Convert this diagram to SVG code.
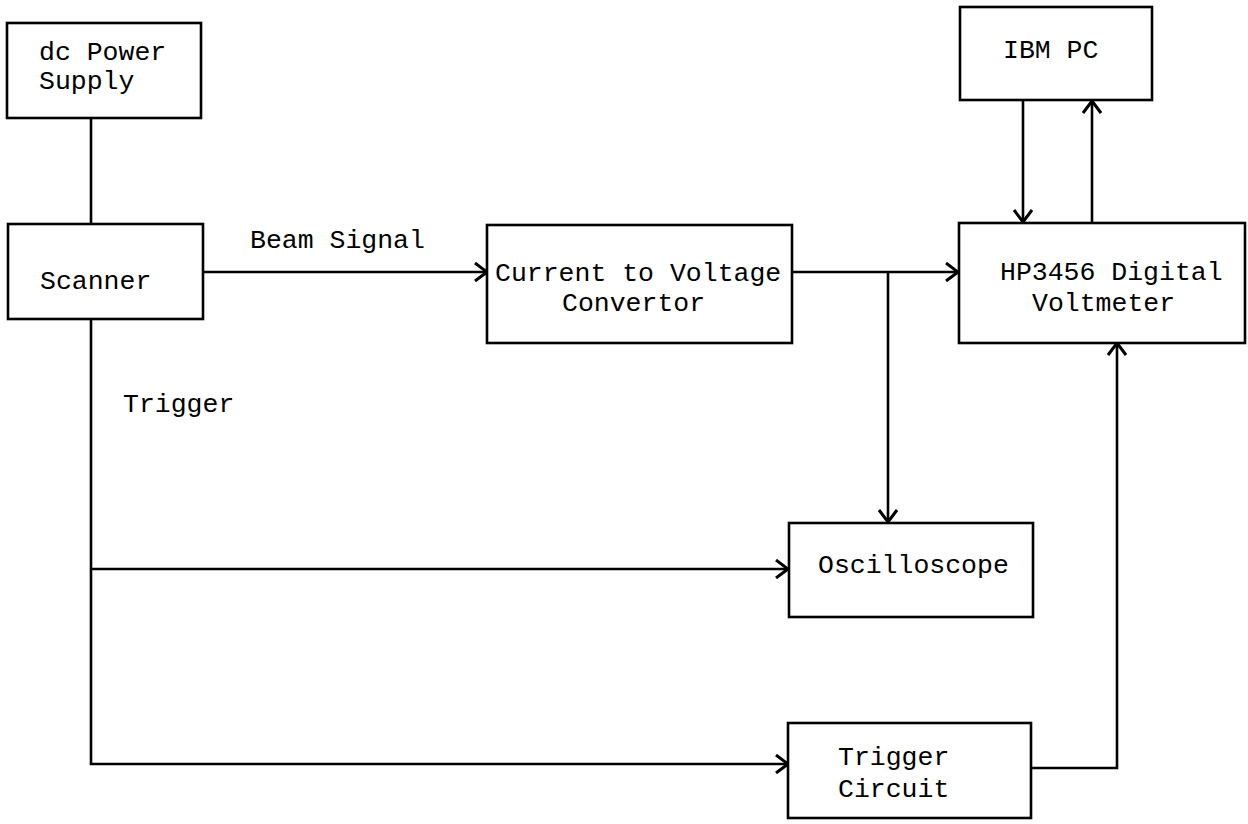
<svg xmlns="http://www.w3.org/2000/svg" width="1248" height="824" viewBox="0 0 1248 824">
<style>
.box{fill:#fff;stroke:#000;stroke-width:2.6}
.ln{fill:none;stroke:#000;stroke-width:2.6}
.t{font-family:"Liberation Mono","DejaVu Sans Mono",monospace;font-size:26.5px;fill:#000}
</style>
<defs>
<marker id="arr" viewBox="0 0 14 20" refX="13" refY="10" markerWidth="14" markerHeight="20" markerUnits="userSpaceOnUse" orient="auto">
<polyline points="1,1 13,10 1,19" fill="none" stroke="#000" stroke-width="3"/>
</marker>
</defs>
<rect width="1248" height="824" fill="#fff"/>
<g id="connectors">
<line class="ln" x1="91" y1="118" x2="91" y2="224"/>
<line class="ln" x1="203" y1="272" x2="487" y2="272" marker-end="url(#arr)"/>
<line class="ln" x1="792" y1="272" x2="958" y2="272" marker-end="url(#arr)"/>
<line class="ln" x1="888" y1="272" x2="888" y2="522" marker-end="url(#arr)"/>
<line class="ln" x1="1023" y1="100" x2="1023" y2="222" marker-end="url(#arr)"/>
<line class="ln" x1="1092" y1="222" x2="1092" y2="101" marker-end="url(#arr)"/>
<polyline class="ln" points="91,319 91,764 788,764" marker-end="url(#arr)"/>
<line class="ln" x1="91" y1="569" x2="788" y2="569" marker-end="url(#arr)"/>
<polyline class="ln" points="1031,768 1117,768 1117,343" marker-end="url(#arr)"/>
</g>
<g id="power">
<rect class="box" x="7" y="23" width="194" height="95"/>
<text class="t" x="39" y="60">dc Power</text>
<text class="t" x="39" y="89">Supply</text>
</g>
<g id="scanner">
<rect class="box" x="8" y="224" width="195" height="95"/>
<text class="t" x="40" y="289">Scanner</text>
</g>
<text id="beam-label" class="t" x="250" y="248">Beam Signal</text>
<text id="trigger-label" class="t" x="123" y="412">Trigger</text>
<g id="ctv">
<rect class="box" x="487" y="225" width="305" height="118"/>
<text class="t" x="495" y="281">Current to Voltage</text>
<text class="t" x="562" y="311">Convertor</text>
</g>
<g id="ibmpc">
<rect class="box" x="960" y="7" width="192" height="93"/>
<text class="t" x="1003" y="58">IBM PC</text>
</g>
<g id="hp">
<rect class="box" x="959" y="223" width="286" height="120"/>
<text class="t" x="1000" y="280">HP3456 Digital</text>
<text class="t" x="1032" y="311">Voltmeter</text>
</g>
<g id="osc">
<rect class="box" x="789" y="523" width="244" height="94"/>
<text class="t" x="818" y="573">Oscilloscope</text>
</g>
<g id="trigcirc">
<rect class="box" x="788" y="723" width="243" height="95"/>
<text class="t" x="838" y="765">Trigger</text>
<text class="t" x="838" y="797">Circuit</text>
</g>
</svg>
